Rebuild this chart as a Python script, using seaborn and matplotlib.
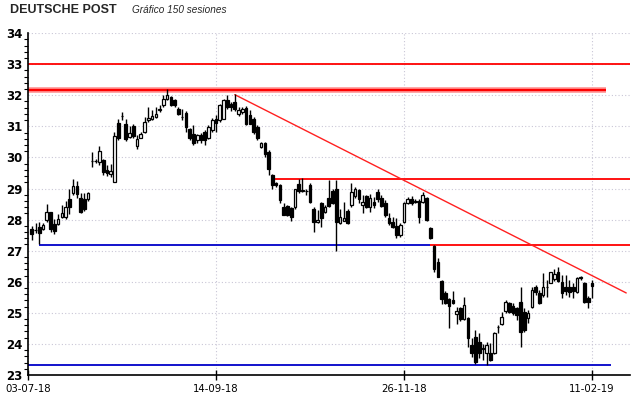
import numpy as np
import pandas as pd
import matplotlib
matplotlib.use("Agg")
import matplotlib.pyplot as plt
import seaborn as sns

# datos de las 150 sesiones (apertura, maximo, minimo, cierre)
opens = [27.69, 27.66, 27.77, 27.71, 27.98, 28.23, 27.85, 27.87, 28.09, 28.09,
         28.65, 28.84, 29.08, 28.70, 28.66, 28.66, 29.88, 29.87, 29.85, 29.91,
         29.60, 29.47, 29.22, 31.12, 31.32, 31.09, 30.66, 31.00, 30.37, 30.64,
         30.82, 31.20, 31.25, 31.30, 31.53, 31.68, 31.88, 31.95, 31.84, 31.55,
         31.31, 31.44, 30.91, 30.77, 30.55, 30.71, 30.82, 30.61, 30.87, 31.25,
         31.20, 31.25, 31.84, 31.73, 31.79, 31.41, 31.46, 31.59, 31.38, 31.25,
         30.98, 30.34, 30.45, 30.18, 29.45, 29.19, 29.11, 28.41, 28.44, 28.36,
         28.41, 29.16, 28.92, 28.91, 29.11, 28.33, 27.93, 28.52, 28.25, 28.68,
         28.93, 28.97, 27.88, 27.96, 28.29, 28.47, 28.76, 28.95, 28.47, 28.76,
         28.42, 28.58, 28.90, 28.68, 28.52, 28.04, 27.93, 27.79, 27.50, 27.93,
         28.52, 28.65, 28.57, 28.61, 28.58, 28.68, 27.72, 27.15, 26.65, 26.03,
         25.65, 25.43, 25.41, 24.96, 25.14, 24.79, 24.82, 23.96, 24.23, 24.07,
         23.88, 23.70, 23.70, 23.72, 24.53, 24.63, 25.06, 25.31, 25.22, 25.14,
         25.36, 25.04, 24.82, 25.18, 25.84, 25.63, 25.57, 25.82, 25.97, 26.08,
         26.32, 26.00, 25.84, 25.82, 25.82, 25.68, 26.13, 25.95, 25.47, 25.95]
highs = [27.78, 27.90, 27.93, 27.90, 28.50, 28.26, 28.03, 28.18, 28.48, 28.61,
         28.98, 29.30, 29.25, 28.84, 28.86, 28.89, 30.16, 29.95, 30.36, 29.95,
         29.75, 29.78, 30.82, 31.23, 31.45, 31.25, 31.00, 31.06, 30.71, 30.82,
         31.30, 31.62, 31.52, 31.62, 31.68, 32.00, 32.19, 31.97, 31.89, 31.62,
         31.57, 31.49, 30.95, 31.04, 30.77, 30.79, 30.87, 31.04, 31.27, 31.38,
         31.73, 31.87, 32.02, 31.79, 32.03, 31.62, 31.62, 31.66, 31.52, 31.30,
         31.04, 30.50, 30.50, 30.23, 29.48, 29.21, 29.16, 28.52, 28.48, 28.41,
         29.00, 29.30, 29.33, 29.00, 29.19, 28.42, 28.31, 28.58, 28.47, 29.27,
         28.97, 29.27, 28.33, 28.58, 28.33, 29.19, 29.04, 29.00, 28.79, 28.79,
         28.82, 28.74, 28.97, 28.79, 28.63, 28.20, 28.09, 28.04, 27.88, 28.58,
         28.72, 28.76, 28.65, 28.65, 28.90, 28.74, 27.77, 27.18, 26.78, 26.05,
         25.70, 25.47, 25.71, 25.18, 25.20, 25.52, 24.85, 24.18, 24.45, 24.36,
         24.00, 24.07, 24.02, 24.39, 24.60, 25.04, 25.41, 25.36, 25.31, 25.20,
         25.84, 25.14, 25.09, 25.84, 25.89, 25.73, 26.27, 26.06, 26.32, 26.40,
         26.46, 26.22, 26.22, 26.06, 25.95, 26.16, 26.18, 26.00, 25.54, 26.06]
lows = [27.35, 27.58, 27.20, 27.66, 27.92, 27.60, 27.53, 27.84, 28.06, 28.03,
        28.17, 28.78, 28.68, 28.20, 28.27, 28.60, 29.70, 29.82, 29.75, 29.45,
        29.41, 29.38, 29.20, 30.55, 31.20, 30.52, 30.61, 30.64, 30.26, 30.61,
        30.80, 31.14, 31.20, 31.27, 31.47, 31.62, 31.84, 31.66, 31.62, 31.36,
        31.20, 30.82, 30.55, 30.41, 30.48, 30.45, 30.41, 30.58, 30.82, 30.82,
        31.14, 31.23, 31.55, 31.49, 31.49, 31.34, 31.41, 31.04, 31.06, 30.77,
        30.55, 30.31, 30.02, 29.43, 29.00, 29.05, 28.52, 28.14, 28.12, 27.95,
        28.33, 28.87, 28.88, 28.80, 28.52, 27.61, 27.88, 27.77, 28.22, 28.41,
        28.50, 27.00, 27.86, 27.94, 27.86, 28.42, 28.71, 28.52, 28.20, 28.36,
        28.25, 28.36, 28.58, 28.39, 28.09, 27.83, 27.72, 27.40, 27.45, 27.90,
        28.50, 28.47, 28.52, 27.88, 28.54, 27.96, 27.36, 26.32, 26.14, 25.30,
        25.28, 24.50, 25.28, 24.64, 24.75, 24.77, 23.89, 23.59, 23.35, 23.54,
        23.48, 23.32, 23.46, 23.67, 24.34, 24.61, 25.00, 24.98, 24.93, 24.77,
        23.91, 24.39, 24.66, 25.14, 25.57, 25.28, 25.52, 25.52, 25.95, 26.03,
        26.00, 25.47, 25.57, 25.52, 25.47, 25.65, 26.06, 25.33, 25.14, 25.47]
closes = [27.55, 27.68, 27.58, 27.81, 28.25, 27.71, 27.62, 28.03, 28.20, 28.39,
          28.40, 29.07, 28.82, 28.26, 28.33, 28.84, 29.90, 29.88, 30.20, 29.52,
          29.50, 29.56, 30.69, 30.61, 31.34, 30.60, 30.80, 30.68, 30.58, 30.74,
          31.14, 31.27, 31.33, 31.41, 31.55, 31.89, 32.00, 31.70, 31.68, 31.41,
          31.29, 30.98, 30.61, 30.45, 30.71, 30.55, 30.55, 30.98, 31.20, 31.12,
          31.70, 31.84, 31.62, 31.62, 31.55, 31.52, 31.55, 31.09, 31.09, 30.82,
          30.61, 30.45, 30.12, 29.64, 29.11, 29.11, 28.62, 28.16, 28.16, 28.09,
          28.98, 28.91, 28.93, 28.93, 28.58, 27.93, 28.00, 28.04, 28.39, 28.44,
          28.52, 27.93, 28.07, 28.04, 27.88, 28.90, 28.97, 28.65, 28.58, 28.42,
          28.68, 28.47, 28.65, 28.44, 28.15, 27.88, 27.77, 27.50, 27.83, 28.52,
          28.65, 28.52, 28.58, 28.09, 28.79, 27.99, 27.42, 26.40, 26.16, 25.46,
          25.33, 25.22, 25.31, 25.07, 24.79, 25.25, 24.18, 23.70, 23.43, 23.70,
          23.84, 23.96, 23.48, 24.36, 24.55, 24.85, 25.36, 25.04, 24.98, 24.93,
          24.39, 24.45, 24.98, 25.73, 25.68, 25.31, 25.82, 25.83, 26.30, 26.25,
          26.03, 25.65, 25.71, 25.68, 25.71, 26.11, 26.14, 25.36, 25.36, 25.86]

date_ticks = [-1, 49, 99, 149]
date_labels = ["03-07-18", "14-09-18", "26-11-18", "11-02-19"]

# soportes y resistencias (nivel, sesion inicial, sesion final)
red_levels = [33.00, 29.32, 27.17]
red_start = [-1, 64.5, 106]
red_end = [159, 159, 159]
main_level = 32.18
main_end = 152.8
blue_levels = [27.17, 23.33]
blue_start = [2, -1]
blue_end = [106, 154]
trend_x = [54, 158.1]
trend_y = [32.02, 25.64]

df = pd.DataFrame({"open": opens, "high": highs, "low": lows, "close": closes})
df["idx"] = np.arange(len(df))
df["up"] = df["close"] >= df["open"]
df["bottom"] = df[["open", "close"]].min(axis=1)
df["height"] = (df["close"] - df["open"]).abs().clip(lower=0.02)

sns.set_theme(style="white")
plt.rcParams["font.family"] = ["DejaVu Sans"]

fig = plt.figure(figsize=(6.4, 3.98), dpi=100)
ax = fig.add_axes([0.04375, 0.0578, 0.94, 0.859])

# rejilla punteada
ax.set_yticks(range(23, 35))
ax.set_yticks(np.arange(23, 34.01, 0.2), minor=True)
ax.set_xticks(date_ticks)
ax.set_xticklabels(date_labels)
ax.grid(True, which="major", linestyle=(0, (1, 2)), color="#c9c6d6", lw=0.8, zorder=0)

# lineas horizontales
ax.hlines(main_level, -1, main_end, color="#ff9090", lw=4, zorder=1)
ax.hlines(main_level, -1, main_end, color="#ff0000", lw=1.6, zorder=1.1)
ax.hlines(red_levels, red_start, red_end, color="#ff0000", lw=1.3, zorder=1.2)
ax.hlines(blue_levels, blue_start, blue_end, color="#0000c8", lw=1.3, zorder=1.2)
ax.plot(trend_x, trend_y, color="#ff2020", lw=1.0, zorder=1.3)

# velas
ax.vlines(df["idx"], df["low"], df["high"], color="black", lw=1.0, zorder=2)
up = df[df["up"]]
down = df[~df["up"]]
ax.bar(up["idx"], up["height"], bottom=up["bottom"], width=0.7,
       color="white", edgecolor="black", lw=0.9, zorder=3)
ax.bar(down["idx"], down["height"], bottom=down["bottom"], width=0.7,
       color="black", edgecolor="black", lw=0.9, zorder=3)

ax.set_xlim(-1, 159)
ax.set_ylim(23, 34)
sns.despine(ax=ax, top=True, right=True)
for s in ["left", "bottom"]:
    ax.spines[s].set_color("black")
    ax.spines[s].set_linewidth(1.2)

ax.tick_params(axis="y", which="major", direction="inout", length=6, width=1,
               pad=1, labelsize=8.5, colors="black")
ax.tick_params(axis="y", which="minor", direction="out", length=3, width=0.8,
               left=True, colors="black")
ax.tick_params(axis="x", which="major", direction="inout", length=7, width=1,
               pad=3, labelsize=7.3, colors="black", bottom=True)
for lab in ax.get_yticklabels():
    lab.set_fontweight("bold")

fig.text(0.016, 0.974, "DEUTSCHE POST", fontsize=9, fontweight="bold",
         family=["Liberation Sans"], va="center", ha="left")
fig.text(0.206, 0.974, "Gráfico 150 sesiones", fontsize=7.2, style="italic",
         family=["Liberation Sans"], va="center", ha="left")

fig.savefig("out.png", dpi=100, facecolor="white")
